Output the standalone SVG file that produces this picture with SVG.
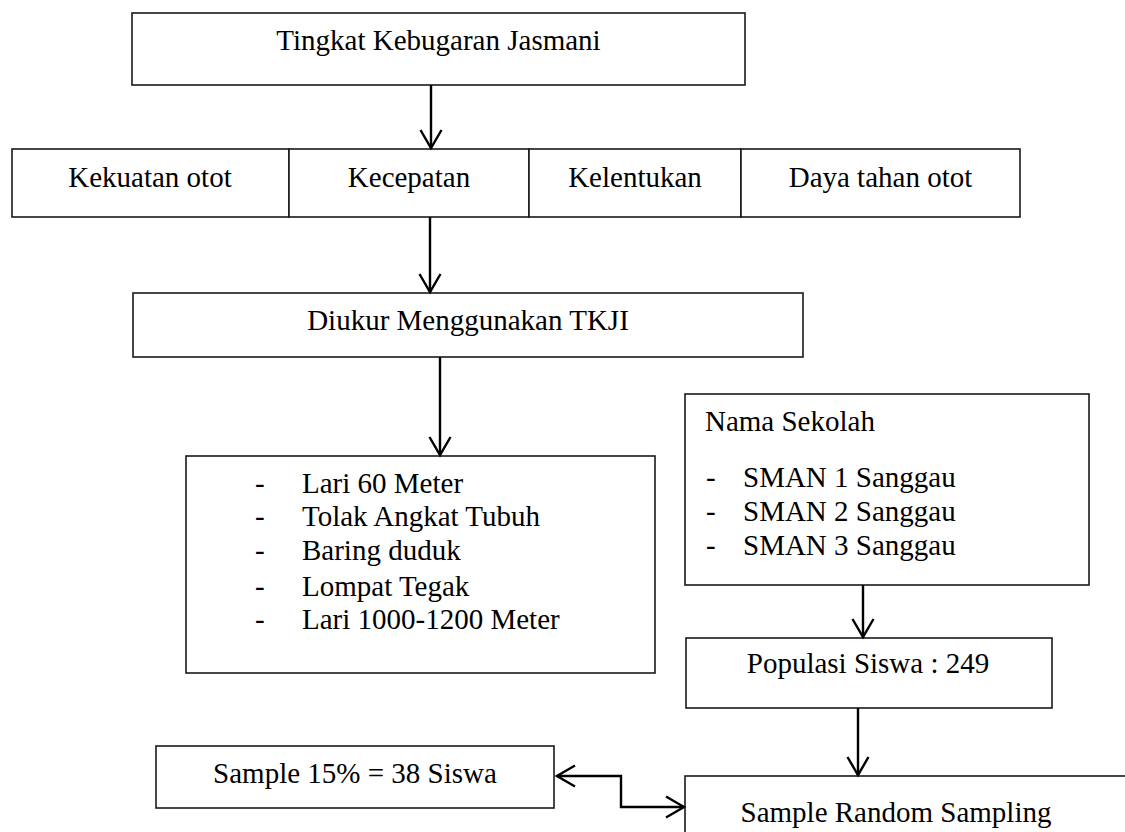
<svg xmlns="http://www.w3.org/2000/svg" width="1125" height="832" viewBox="0 0 1125 832">
<style>
.box{fill:#fff;stroke:#1a1a1a;stroke-width:1.6}
.t{font-family:"Liberation Serif","Times New Roman",serif;font-size:29px;fill:#000}
.c{text-anchor:middle}
.con{fill:none;stroke:#000;stroke-width:2.4}
</style>
<defs>
<marker id="ah" markerUnits="userSpaceOnUse" markerWidth="26" markerHeight="26" viewBox="0 0 26 26" refX="22" refY="13" orient="auto-start-reverse">
<path d="M4,2.5 L22,13 L4,23.5" fill="none" stroke="#000" stroke-width="2.4"/>
</marker>
</defs>
<rect width="1125" height="832" fill="#fff"/>
<g id="n-tingkat">
<rect class="box" x="132" y="13" width="613" height="72"/>
<text class="t c" x="438.5" y="50">Tingkat Kebugaran Jasmani</text>
</g>
<g id="n-kekuatan">
<rect class="box" x="12" y="149" width="277" height="68"/>
<text class="t c" x="150" y="187">Kekuatan otot</text>
</g>
<g id="n-kecepatan">
<rect class="box" x="289" y="149" width="240" height="68"/>
<text class="t c" x="409" y="187">Kecepatan</text>
</g>
<g id="n-kelentukan">
<rect class="box" x="529" y="149" width="212" height="68"/>
<text class="t c" x="635" y="187">Kelentukan</text>
</g>
<g id="n-daya">
<rect class="box" x="741" y="149" width="279" height="68"/>
<text class="t c" x="880.5" y="187">Daya tahan otot</text>
</g>
<g id="n-diukur">
<rect class="box" x="133" y="293" width="670" height="64"/>
<text class="t c" x="468" y="330">Diukur Menggunakan TKJI</text>
</g>
<g id="n-tes">
<rect class="box" x="186" y="456" width="469" height="217"/>
<text class="t" x="255" y="493">-</text><text class="t" x="302" y="493">Lari 60 Meter</text>
<text class="t" x="255" y="526">-</text><text class="t" x="302" y="526">Tolak Angkat Tubuh</text>
<text class="t" x="255" y="560">-</text><text class="t" x="302" y="560">Baring duduk</text>
<text class="t" x="255" y="596">-</text><text class="t" x="302" y="596">Lompat Tegak</text>
<text class="t" x="255" y="629">-</text><text class="t" x="302" y="629">Lari 1000-1200 Meter</text>
</g>
<g id="n-sekolah">
<rect class="box" x="685" y="394" width="404" height="191"/>
<text class="t" x="705" y="431">Nama Sekolah</text>
<text class="t" x="706" y="487">-</text><text class="t" x="743" y="487">SMAN 1 Sanggau</text>
<text class="t" x="706" y="521">-</text><text class="t" x="743" y="521">SMAN 2 Sanggau</text>
<text class="t" x="706" y="555">-</text><text class="t" x="743" y="555">SMAN 3 Sanggau</text>
</g>
<g id="n-populasi">
<rect class="box" x="686" y="638" width="366" height="70"/>
<text class="t c" x="868" y="673">Populasi Siswa : 249</text>
</g>
<g id="n-sample">
<rect class="box" x="156" y="746" width="398" height="62"/>
<text class="t c" x="355" y="783">Sample 15% = 38 Siswa</text>
</g>
<g id="n-random">
<rect class="box" x="685" y="776" width="500" height="100"/>
<text class="t c" x="896" y="822">Sample Random Sampling</text>
</g>
<g id="connectors">
<line class="con" x1="431" y1="85" x2="431" y2="148" marker-end="url(#ah)"/>
<line class="con" x1="430" y1="217" x2="430" y2="292" marker-end="url(#ah)"/>
<line class="con" x1="440" y1="357" x2="440" y2="455" marker-end="url(#ah)"/>
<line class="con" x1="863" y1="585" x2="863" y2="637" marker-end="url(#ah)"/>
<line class="con" x1="858" y1="708" x2="858" y2="775" marker-end="url(#ah)"/>
<polyline class="con" points="557,776 621,776 621,807 684,807" marker-start="url(#ah)" marker-end="url(#ah)"/>
</g>
</svg>
